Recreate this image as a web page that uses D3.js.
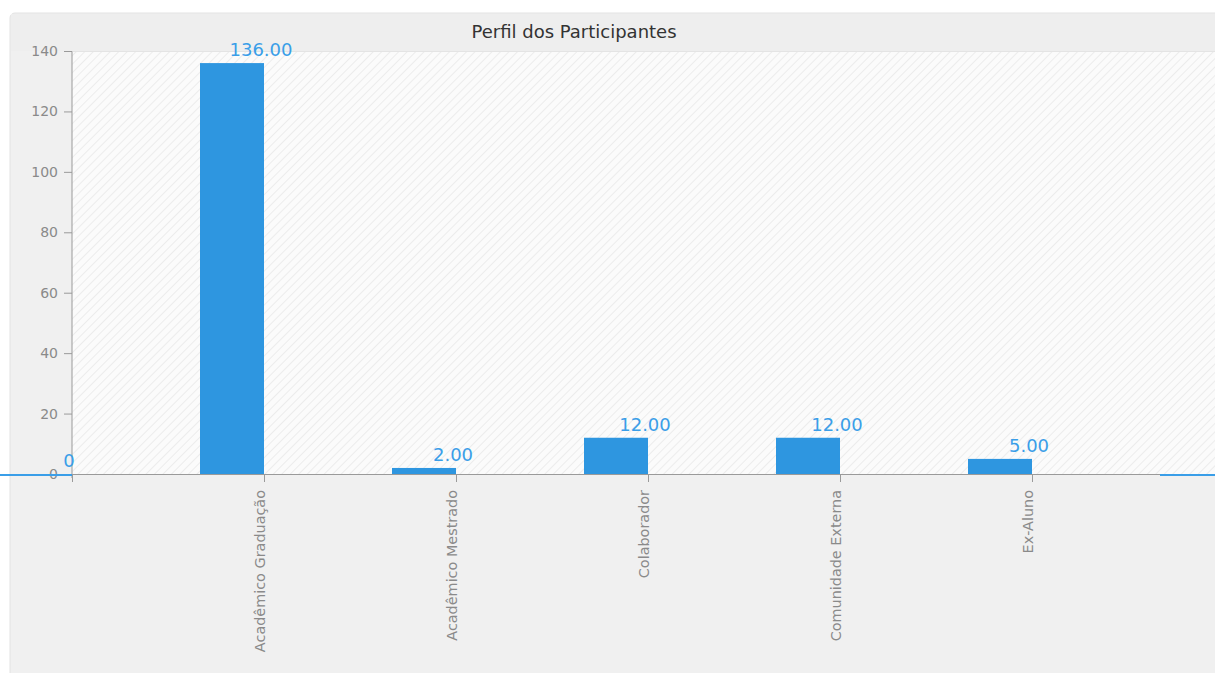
<!DOCTYPE html>
<html>
<head>
<meta charset="utf-8">
<script src="https://cdn.jsdelivr.net/npm/d3@7"></script>
<style>
  html, body { margin: 0; padding: 0; background: #ffffff; }
  svg { display: block; }
  text { font-family: "DejaVu Sans", Verdana, sans-serif; }
</style>
</head>
<body>
<svg id="chart" width="1215" height="673"></svg>
<script>
const title = "Perfil dos Participantes";
const categories = ["Acadêmico Graduação", "Acadêmico Mestrado", "Colaborador", "Comunidade Externa", "Ex-Aluno"];
const values = [136, 2, 12, 12, 5];
const yTicks = [0, 20, 40, 60, 80, 100, 120, 140];

const W = 1215, H = 673;
const plot = { left: 72, top: 51, bottom: 474, right: 1215 };
const svg = d3.select("#chart");

// panel
svg.append("rect").attr("x", 10).attr("y", 13).attr("width", W + 10).attr("height", H)
  .attr("rx", 5).attr("fill", "#f0f0f0").attr("stroke", "#e2e2e2");
svg.append("rect").attr("x", 11).attr("y", 14).attr("width", W).attr("height", 37)
  .attr("fill", "#eeeeee");

// hatch pattern
const defs = svg.append("defs");
const pat = defs.append("pattern").attr("id", "hatch").attr("patternUnits", "userSpaceOnUse")
  .attr("width", 6).attr("height", 6).attr("patternTransform", "rotate(45)");
pat.append("rect").attr("width", 6).attr("height", 6).attr("fill", "#fbfbfb");
pat.append("line").attr("x1", 0).attr("y1", 0).attr("x2", 0).attr("y2", 6)
  .attr("stroke", "#ececec").attr("stroke-width", 2);

svg.append("rect").attr("x", plot.left).attr("y", plot.top)
  .attr("width", plot.right - plot.left).attr("height", plot.bottom - plot.top)
  .attr("fill", "url(#hatch)");
svg.append("line").attr("x1", plot.left).attr("x2", plot.right)
  .attr("y1", plot.top + 0.5).attr("y2", plot.top + 0.5).attr("stroke", "#e4e4e4");

// scales
const x = d3.scaleBand().domain(categories).range([plot.left, plot.left + 192 * categories.length]).padding(0);
const y = d3.scaleLinear().domain([0, 140]).range([plot.bottom, plot.top]);

// title
svg.append("text").attr("x", 574).attr("y", 38).attr("text-anchor", "middle")
  .attr("font-size", 18).attr("fill", "#333").text(title);

// y axis
const yAxis = d3.axisLeft(y).tickValues(yTicks).tickSize(8).tickPadding(6).tickFormat(d3.format("d"));
const gy = svg.append("g").attr("transform", `translate(${plot.left},0)`).call(yAxis);
gy.select(".domain").attr("stroke", "#9a9a9a").attr("d", `M-8,${plot.top + 0.5}H0V${plot.bottom + 4}`);
gy.selectAll(".tick line").attr("stroke", "#9a9a9a");
gy.selectAll(".tick text").attr("fill", "#8a8a8a").attr("font-size", 14)
  .attr("font-family", "DejaVu Sans, sans-serif");

// bars
const bw = x.bandwidth() / 3;
svg.append("g").selectAll("rect").data(values).join("rect")
  .attr("x", (d, i) => x(categories[i]) + x.bandwidth() - bw)
  .attr("y", d => y(d))
  .attr("width", bw)
  .attr("height", d => y(0) - y(d))
  .attr("fill", "#2e96e0");

// zero line series (blue) outside axis
svg.append("line").attr("x1", 0).attr("x2", plot.left).attr("y1", y(0) + 1).attr("y2", y(0) + 1)
  .attr("stroke", "#3a9ee8").attr("stroke-width", 2);
svg.append("line").attr("x1", 1160).attr("x2", plot.right).attr("y1", y(0) + 1).attr("y2", y(0) + 1)
  .attr("stroke", "#3a9ee8").attr("stroke-width", 2);

// x axis
svg.append("line").attr("x1", plot.left).attr("x2", 1160).attr("y1", y(0) + 0.5).attr("y2", y(0) + 0.5)
  .attr("stroke", "#9a9a9a");
const gx = svg.append("g");
gx.selectAll("line").data(categories).join("line")
  .attr("x1", d => x(d) + x.bandwidth() + 0.5).attr("x2", d => x(d) + x.bandwidth() + 0.5)
  .attr("y1", y(0)).attr("y2", y(0) + 8).attr("stroke", "#9a9a9a");
gx.append("line").attr("x1", plot.left + 0.5).attr("x2", plot.left + 0.5)
  .attr("y1", y(0)).attr("y2", y(0) + 8).attr("stroke", "#9a9a9a");
gx.selectAll("text").data(categories).join("text")
  .attr("transform", d => `translate(${x(d) + x.bandwidth() + 1},${y(0) + 16}) rotate(-90)`)
  .attr("text-anchor", "end")
  .attr("font-size", 14.4).attr("fill", "#8a8a8a")
  .text(d => d);

// value labels
svg.append("g").selectAll("text").data(values).join("text")
  .attr("x", (d, i) => x(categories[i]) + x.bandwidth() - 3)
  .attr("y", d => y(d) - 7)
  .attr("text-anchor", "middle")
  .attr("font-size", 18).attr("fill", "#3a9ee8")
  .text(d => d3.format(".2f")(d));

svg.append("text").attr("x", 69).attr("y", y(0) - 7).attr("text-anchor", "middle")
  .attr("font-size", 18).attr("fill", "#3a9ee8").text("0");
</script>
</body>
</html>
